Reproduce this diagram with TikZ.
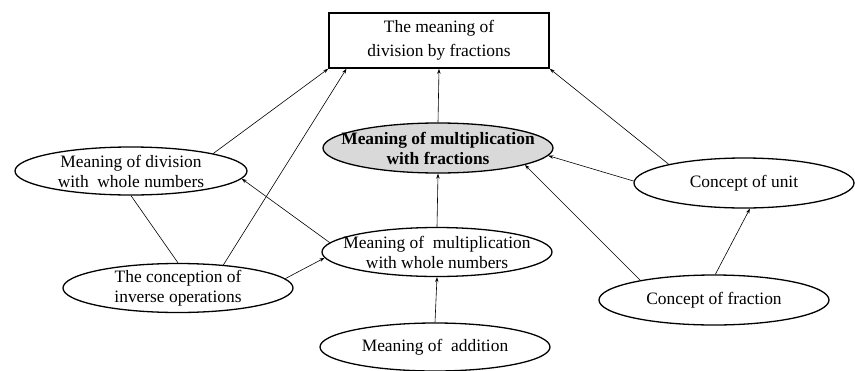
\documentclass[tikz,border=0pt]{standalone}
\usepackage{fontspec}
\setmainfont{Liberation Serif}
\usetikzlibrary{arrows.meta,shapes.geometric}
\begin{document}
\begin{tikzpicture}[x=1pt,y=-1pt,
  el/.style={ellipse,draw,line width=1.3pt,inner sep=0pt},
  txt/.style={align=center,inner sep=0pt,font=\fontsize{17.4}{20}\selectfont},
  arr/.style={-{Stealth[length=5pt,width=3.5pt]},line width=0.6pt},
  ln/.style={line width=0.6pt}]
\useasboundingbox (0,0) rectangle (855,370);
% box
\node[draw,line width=1.6pt,minimum width=220pt,minimum height=55pt,inner sep=0pt] (box) at (439,40.5) {};
\node[txt,font=\fontsize{17.4}{24}\selectfont] (tbox) at (box.center) {The meaning of\\division by fractions};
% ellipses
\node[el,fill=gray!30,minimum width=230pt,minimum height=50pt] (mf) at (438,148) {};
\node[txt,font=\fontsize{17.4}{20}\selectfont\bfseries] (tmf) at (mf.center) {Meaning of multiplication\\with fractions};
\node[el,minimum width=232pt,minimum height=48pt] (div) at (131,171) {};
\node[txt] (tdiv) at (div.center) {Meaning of division\\with\ \ whole numbers};
\node[el,minimum width=230pt,minimum height=49pt] (inv) at (178,288) {};
\node[txt] (tinv) at (inv.center) {The conception of\\inverse operations};
\node[el,minimum width=230pt,minimum height=49pt] (mw) at (437,252) {};
\node[txt] (tmw) at (mw.center) {Meaning of\ \ multiplication\\with whole numbers};
\node[el,minimum width=230pt,minimum height=48pt] (add) at (435,347) {};
\node[txt] (tadd) at (add.center) {Meaning of\ \ addition};
\node[el,minimum width=220pt,minimum height=50pt] (unit) at (744,183) {};
\node[txt] (tunit) at (unit.center) {Concept of unit};
\node[el,minimum width=230pt,minimum height=50pt] (frac) at (714,300) {};
\node[txt] (tfrac) at (frac.center) {Concept of fraction};
% connectors
\draw[arr] (div.12) -- (box.south west);
\draw[arr] (inv.27) -- (box.197);
\draw[arr] (mf.north) -- (box.south);
\draw[arr] (unit.166) -- (box.south east);
\draw[arr] (mw.north) -- (mf.south);
\draw[arr] (unit.179) -- (mf.-4);
\draw[arr] (frac.165) -- (mf.-11);
\draw[arr] (frac.87) -- (unit.-77);
\draw[arr] (add.north) -- (mw.south);
\draw[arr] (inv.5) -- (mw.183.6);
\draw[arr] (mw.175.5) -- (div.-4.6);
\draw[ln] (inv.north) -- (div.south);
\end{tikzpicture}
\end{document}
